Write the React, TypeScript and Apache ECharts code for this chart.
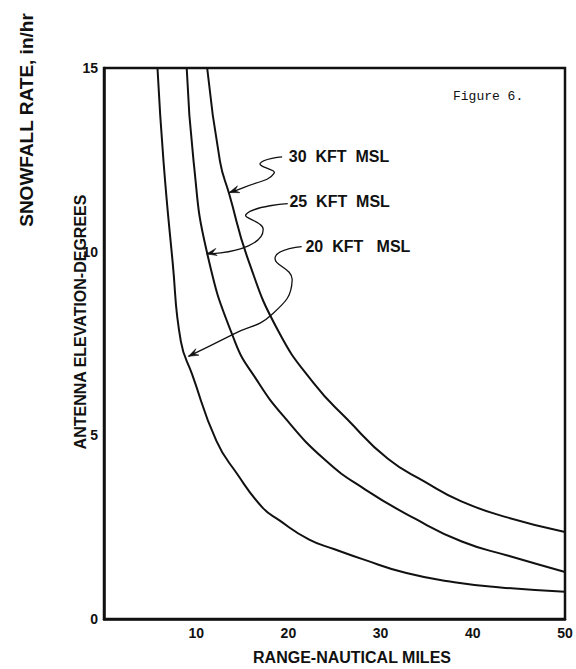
import React, { useEffect, useRef } from "react";
import * as echarts from "echarts";

// Axis ticks
const xTicks = [0, 10, 20, 30, 40, 50];
const yTicks = [0, 5, 10, 15];

// Curves: range (nautical miles) vs antenna elevation (degrees)
const range20 = [5.8, 6.46, 7.44, 8.34, 9.56, 12.19, 14.41, 17.17, 18.99, 22.26, 25, 28.04, 32.8, 38, 43, 50];
const elev20 = [15, 12.44, 9.73, 7.55, 6.66, 4.85, 3.96, 3.04, 2.69, 2.16, 1.9, 1.63, 1.25, 1.0, 0.86, 0.74];
const range25 = [8.97, 9.72, 11.14, 14.19, 16.61, 19.54, 23.93, 28.3, 33.74, 38.81, 43.86, 50];
const elev25 = [15, 12.45, 10.01, 7.56, 6.49, 5.5, 4.34, 3.53, 2.73, 2.11, 1.72, 1.28];
const range30 = [11.19, 12.58, 13.58, 15.68, 18.86, 22.74, 26.41, 30.79, 34.77, 38.76, 43.82, 50];
const elev30 = [15, 12.46, 11.57, 9.75, 7.86, 6.42, 5.43, 4.36, 3.74, 3.2, 2.76, 2.37];
const seriesNames = ["20 KFT MSL", "25 KFT MSL", "30 KFT MSL"];

// Annotation labels (data coords of label's left anchor)
const labelTexts = ["30  KFT  MSL", "25  KFT  MSL", "20  KFT   MSL"];
const labelAnchors: number[][] = [[20.04, 12.58], [20.11, 11.36], [21.85, 10.14]];
// Wiggly leader arrows (data coords, last point = arrow tip)
const arrow30: number[][] = [[19.32, 12.58], [16.93, 12.4], [18.44, 12.13], [15.2, 11.75], [13.58, 11.61]];
const arrow25: number[][] = [[19.93, 11.31], [15.42, 11.02], [17.26, 10.62], [15.66, 10.16], [11.14, 9.94]];
const arrow20: number[][] = [[21.44, 10.14], [18.57, 9.85], [20.41, 9.23], [18.3, 8.31], [13.99, 7.75], [9.16, 7.15]];

const xTitle = "RANGE-NAUTICAL MILES";
const yTitle = "ANTENNA ELEVATION-DEGREES";
const sideTitle = "SNOWFALL RATE, in/hr";
const figLabel = "Figure 6.";

export default function App() {
  const ref = useRef<HTMLDivElement>(null);
  useEffect(() => {
    const el = ref.current!;
    const chart = echarts.init(el, null, { renderer: "svg" });
    const black = "#111";
    const font = "Liberation Sans, Arial, sans-serif";
    const zip = (xs: number[], ys: number[]) => xs.map((x, i) => [x, ys[i]]);
    const lineSeries = (name: string, xs: number[], ys: number[]) => ({
      name,
      type: "line",
      data: zip(xs, ys),
      smooth: 0.5,
      symbol: "none",
      lineStyle: { color: black, width: 2 },
      silent: true,
    });
    chart.setOption({
      animation: false,
      backgroundColor: "#fff",
      grid: {
        left: 104,
        right: 11,
        top: 68,
        bottom: 50,
        show: true,
        borderColor: black,
        borderWidth: 2.5,
        backgroundColor: "transparent",
      },
      xAxis: {
        type: "value",
        min: xTicks[0],
        max: xTicks[xTicks.length - 1],
        interval: 10,
        axisLine: { show: true, lineStyle: { color: black, width: 2.5 } },
        axisTick: { show: false },
        splitLine: { show: false },
        axisLabel: {
          margin: 7,
          color: black,
          fontSize: 14,
          fontWeight: "bold",
          fontFamily: font,
          formatter: (v: number) => (v === 0 ? "" : String(v)),
        },
      },
      yAxis: {
        type: "value",
        min: yTicks[0],
        max: yTicks[yTicks.length - 1],
        interval: 5,
        axisLine: { show: true, lineStyle: { color: black, width: 2.5 } },
        axisTick: { show: false },
        splitLine: { show: false },
        axisLabel: {
          margin: 6,
          color: black,
          fontSize: 14,
          fontWeight: "bold",
          fontFamily: font,
        },
      },
      series: [
        lineSeries(seriesNames[0], range20, elev20),
        lineSeries(seriesNames[1], range25, elev25),
        lineSeries(seriesNames[2], range30, elev30),
      ],
    });

    const toPx = (p: number[]) =>
      chart.convertToPixel({ xAxisIndex: 0, yAxisIndex: 0 }, p) as number[];

    const head = (pts: number[][]) => {
      const tip = pts[pts.length - 1];
      const from = pts[pts.length - 2];
      const dx = tip[0] - from[0];
      const dy = tip[1] - from[1];
      const L = Math.hypot(dx, dy) || 1;
      const ux = dx / L;
      const uy = dy / L;
      const len = 10;
      const w = 3.6;
      const bx = tip[0] - ux * len;
      const by = tip[1] - uy * len;
      return [
        tip,
        [bx - uy * w, by + ux * w],
        [tip[0] - ux * len * 0.6, tip[1] - uy * len * 0.6],
        [bx + uy * w, by - ux * w],
      ];
    };

    const graphics: any[] = [];
    [arrow30, arrow25, arrow20].forEach((a) => {
      const pts = a.map(toPx);
      graphics.push({
        type: "polyline",
        shape: { points: pts, smooth: 0.5 },
        style: { stroke: black, lineWidth: 1.3, fill: null },
        silent: true,
      });
      graphics.push({
        type: "polygon",
        shape: { points: head(pts) },
        style: { fill: black, stroke: black, lineWidth: 0.6 },
        silent: true,
      });
    });
    labelTexts.forEach((t, i) => {
      const p = toPx(labelAnchors[i]);
      graphics.push({
        type: "text",
        x: p[0],
        y: p[1],
        style: {
          text: t,
          fill: black,
          font: `bold 16px ${font}`,
          textAlign: "left",
          textVerticalAlign: "middle",
          align: "left",
          verticalAlign: "middle",
        },
        silent: true,
      });
    });
    graphics.push({
      type: "text",
      x: 453,
      y: 96,
      style: {
        text: figLabel,
        fill: black,
        font: "13px Liberation Mono, DejaVu Sans Mono, monospace",
        textAlign: "left",
        textVerticalAlign: "middle",
        align: "left",
        verticalAlign: "middle",
      },
      silent: true,
    });
    graphics.push({
      type: "text",
      x: 352,
      y: 657,
      style: {
        text: xTitle,
        fill: black,
        font: `bold 16px ${font}`,
        textAlign: "center",
        textVerticalAlign: "middle",
        align: "center",
        verticalAlign: "middle",
      },
      silent: true,
    });
    graphics.push({
      type: "text",
      x: 80,
      y: 322,
      rotation: Math.PI / 2,
      style: {
        text: yTitle,
        fill: black,
        font: `bold 16px ${font}`,
        textAlign: "center",
        textVerticalAlign: "middle",
        align: "center",
        verticalAlign: "middle",
      },
      silent: true,
    });
    graphics.push({
      type: "text",
      x: 26,
      y: 120,
      rotation: Math.PI / 2,
      style: {
        text: sideTitle,
        fill: black,
        font: `bold 19px ${font}`,
        textAlign: "center",
        textVerticalAlign: "middle",
        align: "center",
        verticalAlign: "middle",
      },
      silent: true,
    });
    chart.setOption({ graphic: graphics });

    return () => chart.dispose();
  }, []);

  return (
    <div
      ref={ref}
      style={{ position: "fixed", left: 0, top: 0, width: 576, height: 669, background: "#fff" }}
    />
  );
}
